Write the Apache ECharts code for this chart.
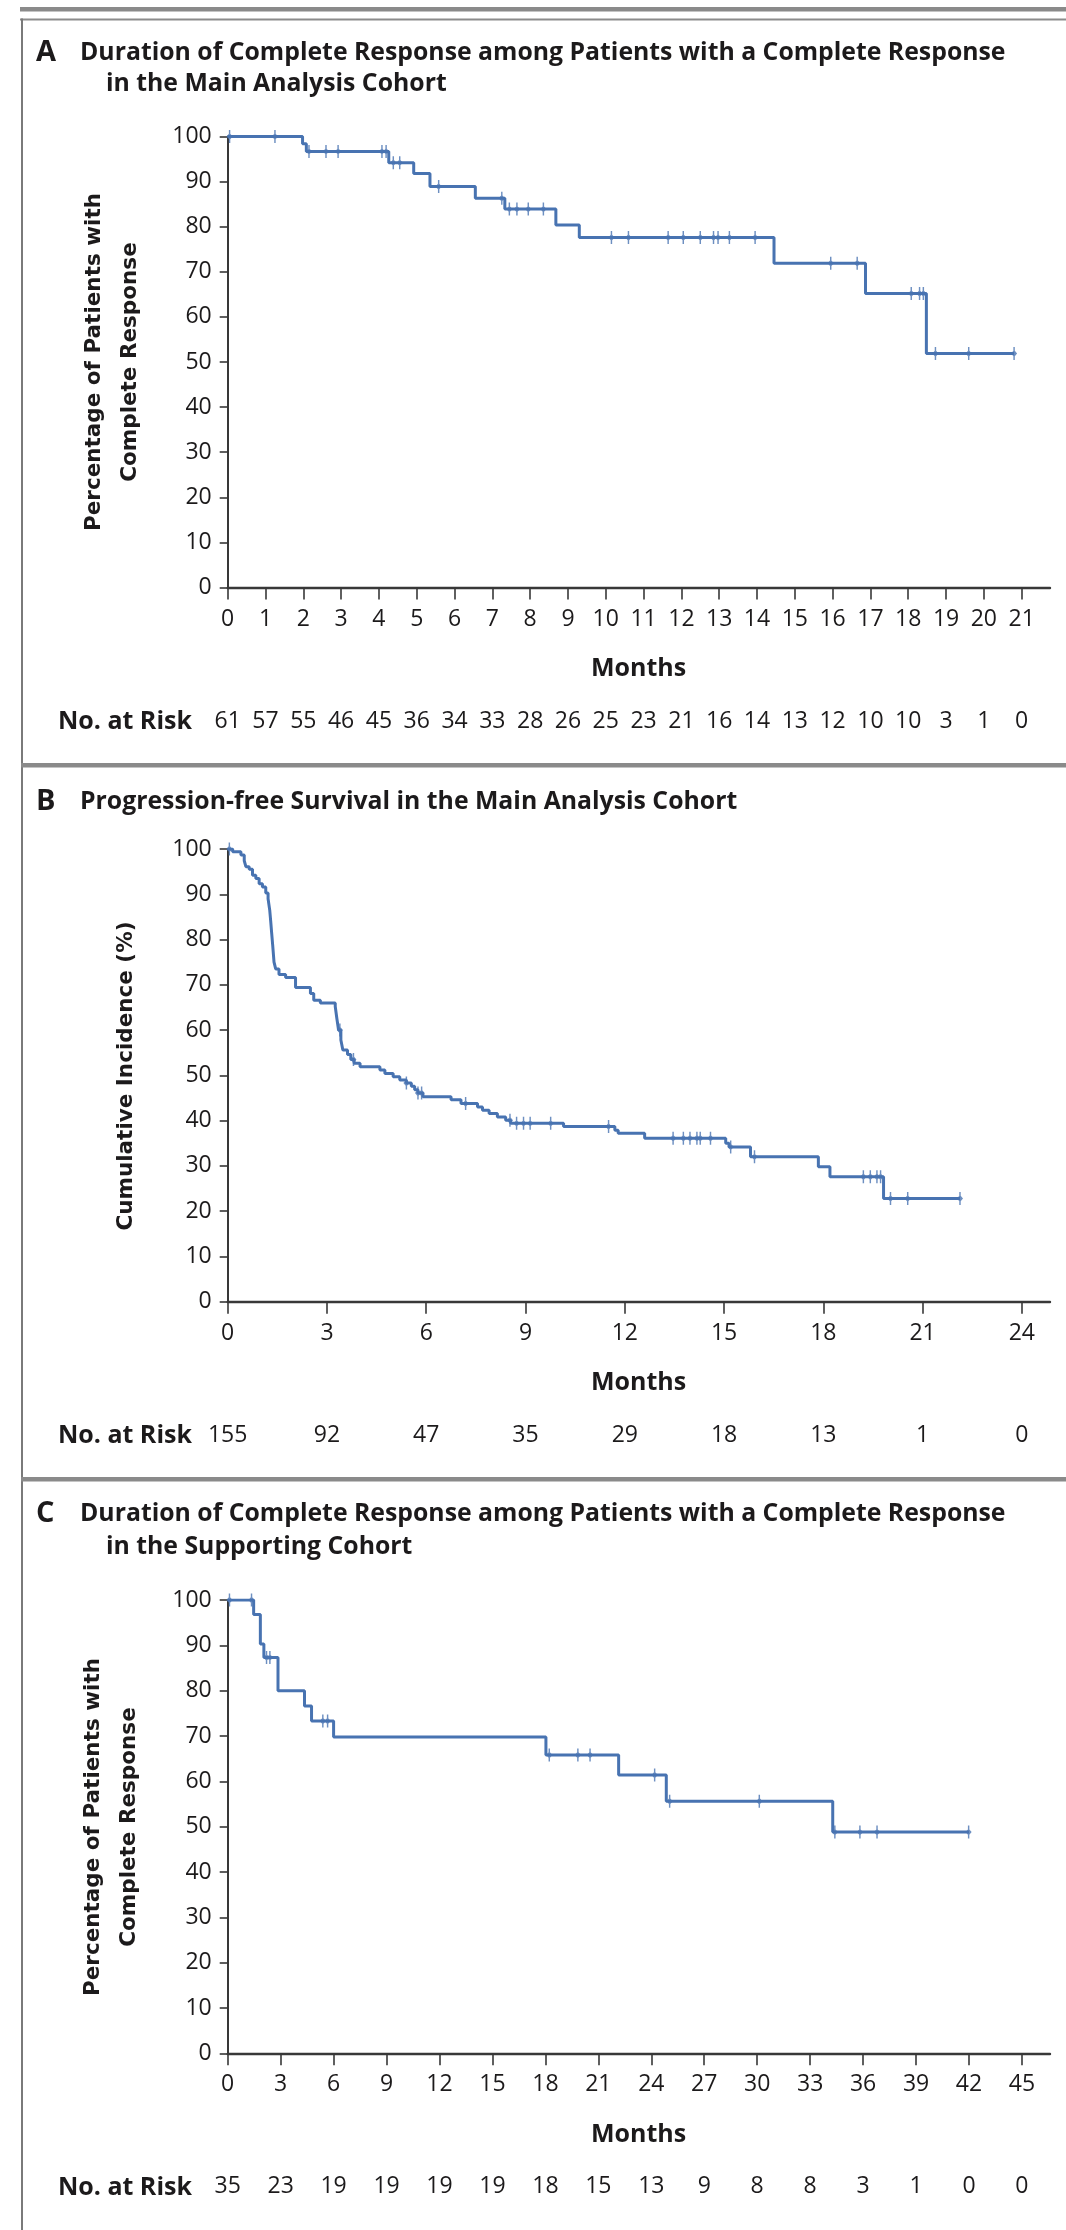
<!DOCTYPE html>
<html><head><meta charset="utf-8">
<script src="https://cdn.jsdelivr.net/npm/echarts@6/dist/echarts.min.js"></script>
<style>html,body{margin:0;padding:0;background:#ffffff}#c{width:1066px;height:2230px}</style>
</head><body><div id="c"></div>
<script>
// ---------- DATA ----------
// Panel A: Duration of complete response, main analysis cohort  [month, % after step]
const aSteps = [[0,100],[1.98,98.4],[2.08,96.7],[4.26,94.2],[4.92,91.8],[5.35,88.9],[6.55,86.3],[7.33,83.9],[8.68,80.4],[9.30,77.6],[14.45,71.9],[16.87,65.2],[18.48,51.9],[20.80,51.9]];
const aCensors = [0.05,1.25,2.15,2.6,2.92,4.08,4.19,4.38,4.55,5.58,7.25,7.45,7.65,7.95,8.35,10.15,10.6,11.65,12.05,12.5,12.85,12.97,13.27,13.95,15.95,16.65,18.08,18.3,18.4,18.72,19.6,20.8];
const aTicks = [0,1,2,3,4,5,6,7,8,9,10,11,12,13,14,15,16,17,18,19,20,21];
const aRisk = [61,57,55,46,45,36,34,33,28,26,25,23,21,16,14,13,12,10,10,3,1,0];

// Panel B: Progression-free survival, main analysis cohort
const bSteps = [[0,100],[0.15,99.4],[0.40,98.7],[0.50,97.4],[0.55,96.1],[0.65,95.5],[0.75,94.2],[0.85,93.5],[0.95,92.3],[1.05,91.6],[1.15,90.3],[1.22,89.0],[1.27,86.5],[1.30,84.0],[1.33,81.3],[1.36,78.7],[1.40,75.0],[1.45,73.5],[1.55,72.3],[1.75,71.6],[2.05,69.4],[2.50,68.1],[2.60,66.6],[2.80,66.0],[3.25,65.2],[3.30,62.5],[3.35,60.0],[3.42,57.8],[3.48,55.6],[3.62,54.6],[3.72,53.5],[3.82,52.7],[4.00,51.9],[4.60,51.2],[4.75,50.4],[5.00,49.7],[5.20,49.0],[5.40,48.3],[5.55,47.6],[5.65,46.8],[5.75,46.1],[5.90,45.3],[6.75,44.6],[7.05,43.8],[7.55,43.0],[7.70,42.3],[7.90,41.6],[8.15,40.8],[8.40,40.1],[8.55,39.4],[10.15,38.7],[11.70,37.9],[11.80,37.2],[12.60,36.1],[15.05,35.0],[15.15,34.2],[15.80,32.0],[17.85,29.8],[18.20,27.6],[19.82,22.8],[22.13,22.8]];
const bCensors = [0.05,3.39,3.80,5.40,5.75,5.86,7.19,8.53,8.73,8.94,9.14,9.76,11.51,13.46,13.77,13.97,14.18,14.28,14.59,15.20,15.92,19.21,19.42,19.62,19.73,20.03,20.55,22.13];
const bTicks = [0,3,6,9,12,15,18,21,24];
const bRisk = [155,92,47,35,29,18,13,1,0];

// Panel C: Duration of complete response, supporting cohort
const cSteps = [[0,100],[1.47,96.8],[1.85,90.3],[2.05,87.3],[2.85,80.0],[4.35,76.6],[4.75,73.3],[6.0,69.8],[18.03,65.8],[22.15,61.4],[24.85,55.6],[34.28,48.8],[42.0,48.8]];
const cCensors = [0.1,1.35,2.2,2.39,5.39,5.66,18.22,19.84,20.53,24.19,25.04,30.12,34.4,35.82,36.79,41.98];
const cTicks = [0,3,6,9,12,15,18,21,24,27,30,33,36,39,42,45];
const cRisk = [35,23,19,19,19,19,18,15,13,9,8,8,3,1,0,0];

// ---------- STYLE / LAYOUT ----------
const FONT = "'Open Sans', 'Noto Sans', 'DejaVu Sans', sans-serif";
const YFONT = "'DejaVu Sans', 'Noto Sans', sans-serif";
const INK = '#1c1a1b';
const BLUE = '#4873b1';
const AX = '#383838';
const PLOT_LEFT = 227.7, PLOT_W = 822.3;

const panels = [
  {steps:aSteps, censors:aCensors, ticks:aTicks, risk:aRisk, top:136.5, h:451, xMax:21.75},
  {steps:bSteps, censors:bCensors, ticks:bTicks, risk:bRisk, top:849, h:452.7, xMax:24.85},
  {steps:cSteps, censors:cCensors, ticks:cTicks, risk:cRisk, top:1600, h:453.3, xMax:46.59}
];

function kmAt(steps, t){
  let v = steps[0][1];
  for (const s of steps){ if (s[0] <= t) v = s[1]; else break; }
  return v;
}

const CENSOR = 'path://M1.9,0 L3.1,0 L3.1,3.5 L5,6 L3.1,8.5 L3.1,12 L1.9,12 L1.9,8.5 L0,6 L1.9,3.5 Z';

const grid = [], xAxis = [], yAxis = [], series = [];
panels.forEach((p, i) => {
  grid.push({left:PLOT_LEFT, top:p.top, width:PLOT_W, height:p.h, outerBoundsMode:'none', containLabel:false});
  xAxis.push({
    type:'value', gridIndex:i, min:0, max:p.xMax, position:'bottom',
    axisLine:{show:true, onZero:false, lineStyle:{color:AX, width:2.4}},
    axisTick:{show:true, customValues:p.ticks, length:12, inside:false, lineStyle:{color:AX, width:1.6}},
    axisLabel:{show:true, customValues:p.ticks, margin:20, color:INK, fontSize:23, fontFamily:FONT},
    splitLine:{show:false}
  });
  xAxis.push({
    type:'value', gridIndex:i, min:0, max:p.xMax, position:'bottom',
    axisLine:{show:false}, axisTick:{show:false}, splitLine:{show:false},
    axisLabel:{show:true, customValues:p.ticks, margin:122, color:INK, fontSize:23, fontFamily:FONT,
      formatter:(v)=>{ const k = p.ticks.indexOf(v); return k >= 0 ? String(p.risk[k]) : ''; }}
  });
  yAxis.push({
    type:'value', gridIndex:i, min:0, max:100, interval:10,
    axisLine:{show:true, onZero:false, lineStyle:{color:AX, width:2}},
    axisTick:{show:true, length:8, inside:false, lineStyle:{color:AX, width:1.6}},
    axisLabel:{show:true, margin:16, color:INK, fontSize:23, fontFamily:FONT},
    splitLine:{show:false}
  });
  series.push({
    type:'line', xAxisIndex:2*i, yAxisIndex:i, data:p.steps, step:'end',
    showSymbol:false, silent:true, animation:false,
    lineStyle:{color:BLUE, width:3}, z:3
  });
  series.push({
    type:'scatter', xAxisIndex:2*i, yAxisIndex:i, silent:true, animation:false,
    data:p.censors.map(t => [t, kmAt(p.steps, t)]),
    symbol:CENSOR, symbolSize:[6,13], itemStyle:{color:BLUE}, z:4
  });
});

function txt(x, y, text, o){
  o = o || {};
  return {type:'text', x:x, y:y, rotation:o.rot || 0, silent:true, z:10,
    style:{text:text, fill:INK, fontFamily:o.family || FONT, fontSize:o.size || 25,
      fontWeight:o.weight || 'bold', align:o.align || 'left', verticalAlign:'middle',
      lineHeight:o.lh || undefined}};
}
function rect(x, y, w, h, c){
  return {type:'rect', silent:true, z:1, shape:{x:x, y:y, width:w, height:h}, style:{fill:c}};
}

const axisY = panels.map(p => p.top + p.h);
const graphic = [
  rect(20, 7, 1046, 4.5, '#8a8a8a'),
  rect(20, 18.5, 1046, 2, '#8c8c8c'),
  rect(21, 18.5, 2, 2212, '#7a7a7a'),
  rect(21, 763, 1045, 4.5, '#8a8a8a'),
  rect(21, 1477, 1045, 4.5, '#8a8a8a'),
  // panel A
  txt(36, 53, 'A', {size:29}),
  txt(80, 53, 'Duration of Complete Response among Patients with a Complete Response', {size:24.8}),
  txt(106, 84, 'in the Main Analysis Cohort', {size:24.8}),
  txt(112, 362, 'Percentage of Patients with\nComplete Response', {family:YFONT, size:21.5, align:'center', rot:Math.PI/2, lh:36}),
  // panel B
  txt(36, 802, 'B', {size:29}),
  txt(80, 802, 'Progression-free Survival in the Main Analysis Cohort', {size:24.8}),
  txt(126, 1076, 'Cumulative Incidence (%)', {family:YFONT, size:21.5, align:'center', rot:Math.PI/2}),
  // panel C
  txt(36, 1514, 'C', {size:29}),
  txt(80, 1514, 'Duration of Complete Response among Patients with a Complete Response', {size:24.8}),
  txt(106, 1547, 'in the Supporting Cohort', {size:24.8}),
  txt(111, 1827, 'Percentage of Patients with\nComplete Response', {family:YFONT, size:21.5, align:'center', rot:Math.PI/2, lh:36})
];
axisY.forEach(y => {
  graphic.push(txt(638.5, y + 81.5, 'Months', {size:25, align:'center'}));
  graphic.push(txt(58, y + 134.5, 'No. at Risk', {size:25}));
});

const chart = echarts.init(document.getElementById('c'), null, {renderer:'canvas', width:1066, height:2230});
chart.setOption({
  backgroundColor:'#ffffff',
  animation:false,
  grid:grid, xAxis:xAxis, yAxis:yAxis, series:series, graphic:graphic
});
</script>
</body></html>
